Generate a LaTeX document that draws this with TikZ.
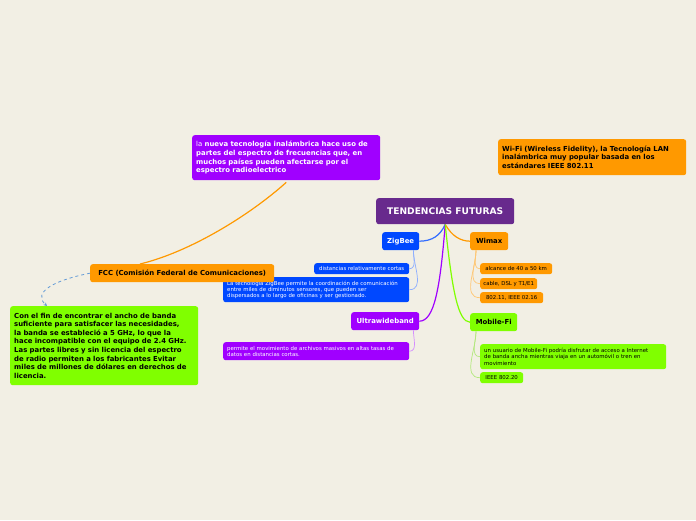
\documentclass[tikz,border=0pt]{standalone}
\usepackage{fontspec}
\setmainfont{DejaVu Sans}
\usetikzlibrary{arrows.meta,calc}

\definecolor{bgpaper}{RGB}{242,239,228}
\definecolor{rootpurple}{RGB}{104,42,141}
\definecolor{zigblue}{RGB}{0,72,255}
\definecolor{maxorange}{RGB}{255,153,0}
\definecolor{uwbviolet}{RGB}{160,0,255}
\definecolor{figreen}{RGB}{128,255,0}
\definecolor{linkblue}{RGB}{100,155,215}

\begin{document}
\begin{tikzpicture}[x=1pt, y=-1pt,
    box/.style={rounded corners=2.5pt, anchor=north west, inner xsep=4pt, inner ysep=0pt},
    topic/.style={box, font=\bfseries\fontsize{6.9}{8}\selectfont},
    note/.style={box, font=\fontsize{5.4}{6.3}\selectfont, align=left},
    tag/.style={box, inner xsep=2pt, font=\fontsize{5.4}{6.3}\selectfont},
    floating/.style={box, font=\bfseries\fontsize{6.9}{8.6}\selectfont, align=left},
    branch/.style={line width=1.2pt},
    twig/.style={line width=0.7pt}]
    % Paper
    \fill[bgpaper] (0,0) rectangle (696,520);
    \useasboundingbox (0,0) rectangle (696,520);

    % Central topic
    \node[topic, fill=rootpurple, text=white, minimum width=138pt, minimum height=26pt,
          font=\bfseries\fontsize{9.1}{10}\selectfont] (root) at (376,198) {TENDENCIAS FUTURAS};

    % Main branches
    \node[topic, fill=zigblue, text=white, minimum width=37pt, minimum height=18pt] (zig) at (382,232) {ZigBee};
    \node[topic, fill=maxorange, minimum width=38pt, minimum height=18pt] (wimax) at (470,232) {Wimax};
    \node[topic, fill=uwbviolet, text=white, minimum width=68pt, minimum height=18pt] (uwb) at (351,312) {Ultrawideband};
    \node[topic, fill=figreen, minimum width=47pt, minimum height=18pt] (mfi) at (470,313) {Mobile-Fi};

    % ZigBee notes
    \node[tag, fill=zigblue, text=white, minimum width=95pt, minimum height=11pt] (zs1) at (314,263)
        {distancias relativamente cortas};
    \node[note, fill=zigblue, text=white, minimum width=186pt, minimum height=25pt, text width=178pt] (zs2) at (223,277)
        {La tecnología ZigBee permite la coordinación de comunicación\\entre miles de diminutos sensores, que pueden ser\\dispersados a lo largo de oficinas y ser gestionado.};

    % Wimax notes
    \node[tag, fill=maxorange, minimum width=72pt, minimum height=11pt] (ws1) at (480,263)
        {alcance de 40 a 50 km};
    \node[tag, fill=maxorange, minimum width=57pt, minimum height=11pt] (ws2) at (480,278)
        {cable, DSL y T1/E1};
    \node[tag, fill=maxorange, minimum width=63pt, minimum height=11pt] (ws3) at (480,292)
        {802.11, IEEE 02.16};

    % Ultrawideband note
    \node[note, fill=uwbviolet, text=white, minimum width=186pt, minimum height=18pt, text width=178pt] (us1) at (223,342)
        {permite el movimiento de archivos masivos en altas tasas de\\datos en distancias cortas.};

    % Mobile-Fi notes
    \node[note, fill=figreen, minimum width=186pt, minimum height=25pt, text width=178pt] (ms1) at (480,344)
        {un usuario de Mobile-Fi podría disfrutar de acceso a Internet\\de banda ancha mientras viaja en un automóvil o tren en\\movimiento};
    \node[tag, fill=figreen, minimum width=43pt, minimum height=11pt] (ms2) at (480,372)
        {IEEE 802.20};

    % Floating topics
    \node[floating, fill=uwbviolet, text=white, minimum width=188pt, minimum height=45pt, text width=180pt] (radio) at (192,135)
        {{\mdseries la} nueva tecnología inalámbrica hace uso de\\partes del espectro de frecuencias que, en\\muchos países pueden afectarse por el\\espectro radioelectrico};
    \node[floating, fill=maxorange, minimum width=188pt, minimum height=36pt, text width=180pt] (wifi) at (498,139)
        {Wi-Fi (Wireless Fidelity), la Tecnología LAN\\inalámbrica muy popular basada en los\\estándares IEEE 802.11};
    \node[topic, fill=maxorange, minimum width=184pt, minimum height=18pt] (fcc) at (90,264)
        {FCC (Comisión Federal de Comunicaciones)};
    \node[floating, fill=figreen, minimum width=188pt, minimum height=79pt, text width=180pt] (band) at (10,306)
        {Con el fin de encontrar el ancho de banda\\suficiente para satisfacer las necesidades,\\la banda se estableció a 5 GHz, lo que la\\hace incompatible con el equipo de 2.4 GHz.\\Las partes libres y sin licencia del espectro\\de radio permiten a los fabricantes Evitar\\miles de millones de dólares en derechos de\\licencia.};

    % Branch connectors
    \draw[branch, zigblue!80] (root.south) .. controls (440,236) and (432,241) .. (zig.east);
    \draw[branch, maxorange] (root.south) .. controls (452,236) and (460,241) .. (wimax.west);
    \draw[branch, uwbviolet] (root.south) .. controls (440,290) and (434,321) .. (uwb.east);
    \draw[branch, figreen] (root.south) .. controls (452,290) and (458,322) .. (mfi.west);

    % Note connectors
    \draw[twig, zigblue!45] ($(zig.south east)+(-6,0)$) to[out=-90,in=0] (zs1.east);
    \draw[twig, zigblue!45] ($(zig.south east)+(-6,0)$) to[out=-90,in=0] (zs2.east);
    \draw[twig, maxorange!55] ($(wimax.south west)+(6,0)$) to[out=-90,in=180] (ws1.west);
    \draw[twig, maxorange!55] ($(wimax.south west)+(6,0)$) to[out=-90,in=180] (ws2.west);
    \draw[twig, maxorange!55] ($(wimax.south west)+(6,0)$) to[out=-90,in=180] (ws3.west);
    \draw[twig, uwbviolet!45] ($(uwb.south east)+(-6,0)$) to[out=-90,in=0] (us1.east);
    \draw[twig, figreen!70!gray!60] ($(mfi.south west)+(6,0)$) to[out=-90,in=180] (ms1.west);
    \draw[twig, figreen!70!gray!60] ($(mfi.south west)+(6,0)$) to[out=-90,in=180] (ms2.west);

    % Floating connectors
    \draw[branch, maxorange] ($(radio.south)+(0,2)$) .. controls (250,215) and (190,252) .. ($(fcc.north west)+(50,0)$);
    \draw[line width=0.8pt, dashed, linkblue, -{Stealth[length=3.5pt,width=3.5pt]}] (fcc.west)
        .. controls (55,280) and (32,292) .. ($(band.north west)+(37,0)$);
\end{tikzpicture}
\end{document}
